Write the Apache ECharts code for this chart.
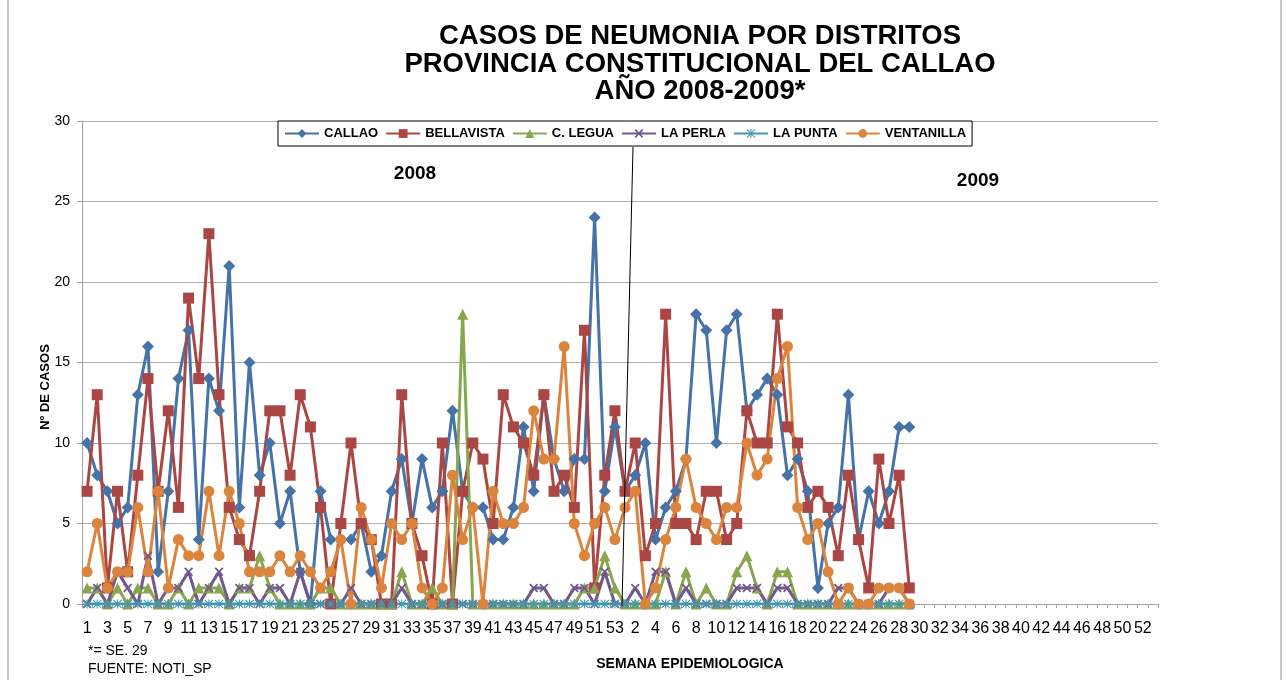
<!DOCTYPE html>
<html>
<head>
<meta charset="utf-8">
<script src="https://cdn.jsdelivr.net/npm/echarts@6/dist/echarts.min.js"></script>
<style>
html, body { margin: 0; padding: 0; background: #fff; }
#chart { width: 1287px; height: 680px; }
</style>
</head>
<body>
<div id="chart"></div>
<script>
// semanas epidemiologicas (2008 y 2009)
var weeks2008 = ['1','2','3','4','5','6','7','8','9','10','11','12','13','14','15','16','17','18','19','20',
  '21','22','23','24','25','26','27','28','29','30','31','32','33','34','35','36','37','38','39','40',
  '41','42','43','44','45','46','47','48','49','50','51','52','53'];
var weeks2009 = ['1','2','3','4','5','6','7','8','9','10','11','12','13','14','15','16','17','18','19','20',
  '21','22','23','24','25','26','27','28','29','30','31','32','33','34','35','36','37','38','39','40',
  '41','42','43','44','45','46','47','48','49','50','51','52','53'];

// casos por distrito, 2008 (SE 1-53) y 2009 (SE 1-29)
var callao2008 = [10,8,7,5,6,13,16,2,7,14, 17,4,14,12,21,6,15,8,10,5, 7,2,0,7,4,4,4,5,2,3,
  7,9,5,9,6,7,12,7,6,6, 4,4,6,11,7,13,9,7,9,9, 24,7,11];
var callao2009 = [7,8,10,4,6,7,9,18,17,10, 17,18,12,13,14,13,8,9,7,1, 5,6,13,4,7,5,7,11,11];

var bellavista2008 = [7,13,1,7,2,8,14,7,12,6, 19,14,23,13,6,4,3,7,12,12, 8,13,11,6,0,5,10,5,4,0,
  0,13,5,3,0,10,0,7,10,9, 5,13,11,10,8,13,7,8,6,17, 1,8,12];
var bellavista2009 = [7,10,3,5,18,5,5,4,7,7, 4,5,12,10,10,18,11,10,6,7, 6,3,8,4,1,9,5,8,1];

var legua2008 = [1,1,0,1,0,1,1,0,0,1, 0,1,1,1,0,1,1,3,1,0, 0,0,0,1,1,0,0,0,0,0,
  0,2,0,0,1,0,0,18,0,0, 0,0,0,0,0,0,0,0,0,1, 1,3,1];
var legua2009 = [0,0,0,0,2,0,2,0,1,0, 0,2,3,1,0,2,2,0,0,0, 0,0,0,0,0,0,0,0,0];

var perla2008 = [0,1,0,2,1,0,3,0,1,1, 2,0,1,2,0,1,1,0,1,1, 0,2,0,0,0,0,1,0,0,0,
  0,1,0,0,0,0,0,0,0,0, 0,0,0,0,1,1,0,0,1,1, 0,2,0];
var perla2009 = [0,1,0,2,2,0,1,0,0,0, 0,1,1,1,0,1,1,0,0,0, 0,1,1,0,0,0,1,1,0];

var punta2008 = [0,0,0,0,0,0,0,0,0,0, 0,0,0,0,0,0,0,0,0,0, 0,0,0,0,0,0,0,0,0,0,
  0,0,0,0,0,0,0,0,0,0, 0,0,0,0,0,0,0,0,0,0, 0,0,0];
var punta2009 = [0,0,0,0,0,0,0,0,0,0, 0,0,0,0,0,0,0,0,0,0, 0,0,0,0,0,0,0,0,0];

var ventanilla2008 = [2,5,1,2,2,6,2,7,1,4, 3,3,7,3,7,5,2,2,2,3, 2,3,2,1,2,4,0,6,4,1,
  5,4,5,1,0,1,8,4,6,0, 7,5,5,6,12,9,9,16,5,3, 5,6,4];
var ventanilla2009 = [6,7,0,1,4,6,9,6,5,4, 6,6,10,8,9,14,16,6,4,5, 2,0,1,0,0,1,1,1,0];

var FONT = '"Liberation Sans", Arial, sans-serif';
// marcadores tipo Excel
var SYM_X = 'path://M0,1.4L1.4,0L5,3.6L8.6,0L10,1.4L6.4,5L10,8.6L8.6,10L5,6.4L1.4,10L0,8.6L3.6,5Z';
var SYM_STAR = 'path://M0,4.4H10V5.6H0Z M4.4,0H5.6V10H4.4Z M0.8,0L10,9.2L9.2,10L0,0.8Z M9.2,0L10,0.8L0.8,10L0,9.2Z';

function makeSeries(name, d08, d09, color, symbol, size) {
  return {
    name: name,
    type: 'line',
    data: d08.concat(d09),
    symbol: symbol,
    symbolSize: size,
    showAllSymbol: true,
    itemStyle: { color: color },
    lineStyle: { color: color, width: 3 },
    emphasis: { disabled: true }
  };
}

var myChart = echarts.init(document.getElementById('chart'));

var option = {
  animation: false,
  backgroundColor: '#fff',
  title: {
    text: 'CASOS DE NEUMONIA POR DISTRITOS\nPROVINCIA CONSTITUCIONAL DEL CALLAO\nAÑO 2008-2009*',
    left: 695,
    top: 18,
    textAlign: 'center',
    textStyle: { fontFamily: FONT, fontWeight: 'bold', fontSize: 27.5, lineHeight: 27.5, color: '#000' }
  },
  legend: {
    left: 278,
    top: 121,
    itemWidth: 34,
    itemHeight: 11,
    itemGap: 7,
    padding: [6, 6],
    borderColor: '#000',
    borderWidth: 1,
    backgroundColor: '#fff',
    textStyle: { fontFamily: FONT, fontWeight: 'bold', fontSize: 13, color: '#000' },
    data: ['CALLAO', 'BELLAVISTA', 'C. LEGUA', 'LA PERLA', 'LA PUNTA', 'VENTANILLA']
  },
  grid: { left: 82, right: 129, top: 121, height: 483 },
  xAxis: {
    type: 'category',
    data: weeks2008.concat(weeks2009),
    boundaryGap: true,
    axisLine: { lineStyle: { color: '#a0a0a0', width: 1 } },
    axisTick: { show: true, interval: 0, length: 4, lineStyle: { color: '#a0a0a0' } },
    axisLabel: { interval: 1, fontFamily: FONT, fontSize: 16, color: '#000', margin: 17 }
  },
  yAxis: {
    type: 'value',
    min: 0,
    max: 30,
    interval: 5,
    axisLine: { show: true, lineStyle: { color: '#a0a0a0' } },
    axisTick: { show: true, length: 5, lineStyle: { color: '#a0a0a0' } },
    splitLine: { lineStyle: { color: '#b0b0b0', width: 1 } },
    axisLabel: { fontFamily: FONT, fontSize: 14, color: '#000', margin: 12 }
  },
  graphic: [
    { type: 'rect', shape: { x: 8, y: -2, width: 1273, height: 684 }, style: { fill: 'none', stroke: '#8c8c8c', lineWidth: 1 }, silent: true },
    { type: 'line', shape: { x1: 633, y1: 147, x2: 622, y2: 606 }, style: { stroke: '#000', lineWidth: 1 }, z: 100 },
    { type: 'text', x: 415, y: 174, style: { text: '2008', font: 'bold 19px ' + FONT, fill: '#000', align: 'center', verticalAlign: 'middle' } },
    { type: 'text', x: 978, y: 181, style: { text: '2009', font: 'bold 19px ' + FONT, fill: '#000', align: 'center', verticalAlign: 'middle' } },
    { type: 'text', x: 45, y: 387, rotation: Math.PI / 2, style: { text: 'Nº DE CASOS', font: 'bold 13px ' + FONT, fill: '#000', align: 'center', verticalAlign: 'middle' } },
    { type: 'text', x: 690, y: 664, style: { text: 'SEMANA EPIDEMIOLOGICA', font: 'bold 14px ' + FONT, fill: '#000', align: 'center', verticalAlign: 'middle' } },
    { type: 'text', x: 88, y: 651, style: { text: '*= SE. 29', font: '14px ' + FONT, fill: '#000', align: 'left', verticalAlign: 'middle' } },
    { type: 'text', x: 88, y: 669, style: { text: 'FUENTE: NOTI_SP', font: '14px ' + FONT, fill: '#000', align: 'left', verticalAlign: 'middle' } }
  ],
  series: [
    makeSeries('CALLAO', callao2008, callao2009, '#4572A7', 'diamond', 12),
    makeSeries('BELLAVISTA', bellavista2008, bellavista2009, '#AA4643', 'rect', 11),
    makeSeries('C. LEGUA', legua2008, legua2009, '#89A54E', 'triangle', 11),
    makeSeries('LA PERLA', perla2008, perla2009, '#71588F', SYM_X, 9),
    makeSeries('LA PUNTA', punta2008, punta2009, '#4198AF', SYM_STAR, 9),
    makeSeries('VENTANILLA', ventanilla2008, ventanilla2009, '#DB843D', 'circle', 11)
  ]
};
myChart.setOption(option);
window.addEventListener('resize', function () { myChart.resize(); });
</script>
</body>
</html>
